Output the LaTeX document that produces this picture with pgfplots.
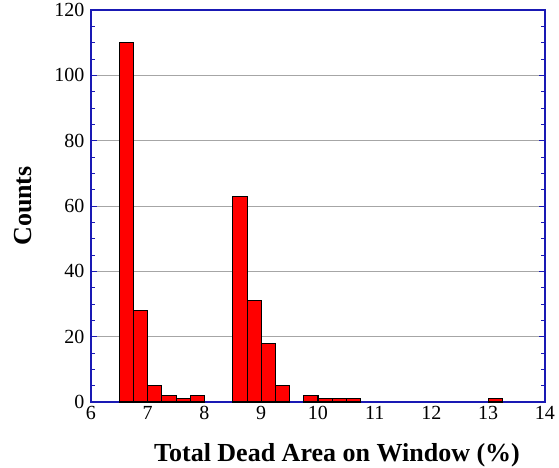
\documentclass[border=0pt]{standalone}
\usepackage{pgfplots}
\pgfplotsset{compat=1.18}
\usepackage{fontspec}
\setmainfont{Liberation Serif}
\definecolor{axblue}{RGB}{25,25,180}
\begin{document}
\begin{tikzpicture}
\useasboundingbox (-91pt,-65pt) rectangle (468pt,402pt);
\begin{axis}[
  at={(0pt,0pt)}, anchor=south west,
  scale only axis,
  width=454pt, height=392pt,
  xmin=6, xmax=14, ymin=0, ymax=120,
  xtick={6,7,...,14},
  ytick={0,20,...,120},
  minor y tick num=3,
  axis line style={axblue, line width=1.3pt},
  tick style={axblue, line width=0.9pt},
  major tick length=6pt, minor tick length=4pt,
  xtick style={draw=none},
  tick align=inside,
  ymajorgrids,
  grid style={gray!70, line width=0.7pt},
  /pgf/number format/assume math mode=true,
  ticklabel style={font=\fontsize{20}{22}\selectfont},
  yticklabel style={xshift=-3pt},
  xticklabel style={yshift=-1pt},
  xlabel={Total Dead Area on Window (\%)},
  ylabel={Counts},
  label style={font=\fontsize{26}{30}\selectfont\bfseries},
  xlabel style={at={(axis description cs:0.5,0)}, anchor=base, xshift=19pt, yshift=-59pt},
  ylabel style={at={(axis description cs:0,0.5)}, anchor=center, yshift=68pt},
]
\addplot[ybar, bar width=0.25, bar shift=0pt, fill=red, draw=black, line width=1.1pt] coordinates {
(6.625,110) (6.875,28) (7.125,5) (7.375,2) (7.625,1) (7.875,2)
(8.625,63) (8.875,31) (9.125,18) (9.375,5)
(9.875,2) (10.125,1) (10.375,1) (10.625,1)
(13.125,1)
};
\end{axis}
\end{tikzpicture}
\end{document}
